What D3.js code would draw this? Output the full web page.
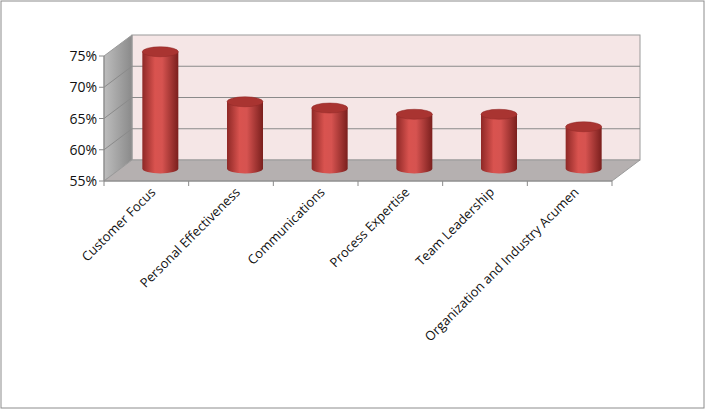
<!DOCTYPE html><html><head><script src="https://cdn.jsdelivr.net/npm/d3@7"></script>
<style>body{margin:0;background:#fff}</style></head><body><svg id="c" width="705" height="409"></svg>
<script>
const categories=["Customer Focus","Personal Effectiveness","Communications","Process Expertise","Team Leadership","Organization and Industry Acumen"];
const values=[0.74,0.66,0.65,0.64,0.64,0.62];
const ticks=[0.55,0.60,0.65,0.70,0.75];
const svg=d3.select("#c");
const x0=104,x1=612,dx=28,dy=-21;
const y=d3.scaleLinear().domain([0.55,0.75]).range([181,56]);
const x=d3.scaleBand().domain(categories).range([x0,x1]);
svg.append("rect").attr("x",1).attr("y",1).attr("width",703).attr("height",407).attr("fill","#fff").attr("stroke","#8c8c8c");
const defs=svg.append("defs");
const g1=defs.append("linearGradient").attr("id","cyl");
[[0,"#8e2826"],[0.35,"#d9534f"],[0.55,"#d65350"],[1,"#7a1f1d"]].forEach(s=>g1.append("stop").attr("offset",s[0]).attr("stop-color",s[1]));
const g2=defs.append("linearGradient").attr("id","side").attr("x1",0).attr("x2",1);
g2.append("stop").attr("offset",0).attr("stop-color","#bdbdbd");g2.append("stop").attr("offset",1).attr("stop-color","#8a8a8a");
svg.append("rect").attr("x",x0+dx).attr("y",y(0.75)+dy).attr("width",x1-x0).attr("height",y(0.55)-y(0.75)).attr("fill","#f5e6e6").attr("stroke","#9a9a9a");
svg.append("path").attr("d",`M${x0},${y(0.55)}L${x0},${y(0.75)}L${x0+dx},${y(0.75)+dy}L${x0+dx},${y(0.55)+dy}Z`).attr("fill","url(#side)").attr("stroke","#9a9a9a");
svg.append("path").attr("d",`M${x0},${y(0.55)}L${x1},${y(0.55)}L${x1+dx},${y(0.55)+dy}L${x0+dx},${y(0.55)+dy}Z`).attr("fill","#b5b0b0").attr("stroke","#9a9a9a");
ticks.slice(1,4).forEach(t=>{
 svg.append("line").attr("x1",x0+dx).attr("x2",x1+dx).attr("y1",y(t)+dy).attr("y2",y(t)+dy).attr("stroke","#8a8a8a");
 svg.append("line").attr("x1",x0).attr("x2",x0+dx).attr("y1",y(t)).attr("y2",y(t)+dy).attr("stroke","#8a8a8a");
});
svg.append("line").attr("x1",x0).attr("x2",x0).attr("y1",y(0.55)).attr("y2",y(0.75)).attr("stroke","#8a8a8a");
svg.append("line").attr("x1",x0).attr("x2",x1).attr("y1",y(0.55)).attr("y2",y(0.55)).attr("stroke","#8a8a8a");
ticks.forEach(t=>{
 svg.append("line").attr("x1",x0-5).attr("x2",x0).attr("y1",y(t)).attr("y2",y(t)).attr("stroke","#8a8a8a");
 svg.append("text").attr("x",x0-7).attr("y",y(t)+5).attr("text-anchor","end").attr("font-family","Open Sans, Arial").attr("font-size",14).attr("fill","#111").text(Math.round(t*100)+"%");
});
categories.forEach((c,i)=>{
 const xt=x0+i*x.bandwidth();
 svg.append("line").attr("x1",xt).attr("x2",xt).attr("y1",y(0.55)).attr("y2",y(0.55)+5).attr("stroke","#8a8a8a");
});
svg.append("line").attr("x1",x1).attr("x2",x1).attr("y1",y(0.55)).attr("y2",y(0.55)+5).attr("stroke","#8a8a8a");
const w=36,ry=5;
categories.forEach((c,i)=>{
 const cx=x(c)+x.bandwidth()/2+dx/2, off=dy/2;
 const yb=y(0.55)+off-2, yt=y(values[i])+off;
 svg.append("path").attr("d",`M${cx-w/2},${yt}L${cx-w/2},${yb}A${w/2},${ry} 0 0 0 ${cx+w/2},${yb}L${cx+w/2},${yt}Z`).attr("fill","url(#cyl)");
 svg.append("ellipse").attr("cx",cx).attr("cy",yt).attr("rx",w/2).attr("ry",ry).attr("fill","#a93431").attr("stroke","#8e2826").attr("stroke-width",0.5);
 svg.append("text").attr("transform",`translate(${x(c)+x.bandwidth()/2+10},${y(0.55)+12}) rotate(-45)`).attr("text-anchor","end").attr("font-family","Open Sans, Arial").attr("font-size",13).attr("fill","#111").text(c);
});
</script></body></html>
